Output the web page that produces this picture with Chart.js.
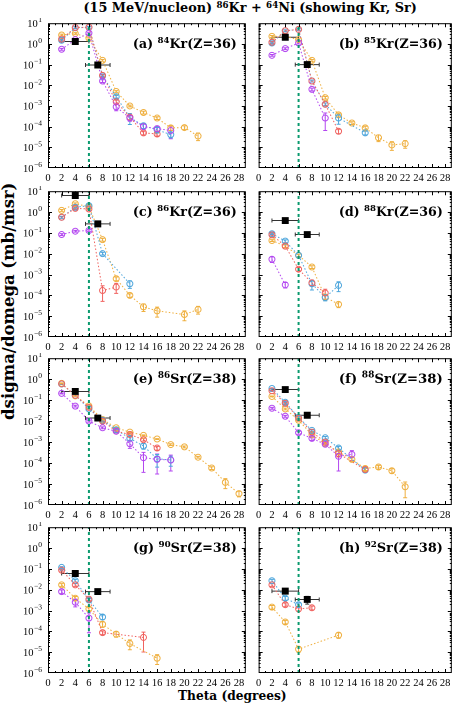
<!DOCTYPE html>
<html><head><meta charset="utf-8">
<script src="https://cdn.jsdelivr.net/npm/chart.js@4.4.1/dist/chart.umd.min.js"></script>
<style>
html,body{margin:0;padding:0;background:#fff}
body{width:457px;height:705px;position:relative;overflow:hidden}
canvas.p{position:absolute}
.t{position:absolute;white-space:nowrap;font-family:'DejaVu Serif';font-weight:bold;line-height:1;color:#000}
.t sup{font-size:0.68em;vertical-align:0.42em;line-height:0}
</style></head><body>
<div id="title" class="t">(15 MeV/nucleon) <sup>86</sup>Kr + <sup>64</sup>Ni (showing Kr, Sr)</div>
<div id="ytitle" class="t">dsigma/domega (mb/msr)</div>
<div id="xtitle" class="t">Theta (degrees)</div>
<script>
// ---------- axes / ticks ----------
const X_MIN = 0, X_MAX = 29, Y_MIN = 1e-6, Y_MAX = 10;
const X_TICKS = [0,2,4,6,8,10,12,14,16,18,20,22,24,26,28];
const Y_TICK_EXP = [1,0,-1,-2,-3,-4,-5,-6];
const THETA_GRAZ = 6;
const EXP_X = [4, 7.3];
const EXP_XERR = [2, 1.8];

// ---------- panel labels ----------
const PANEL_TAG = ['(a)','(b)','(c)','(d)','(e)','(f)','(g)','(h)'];
const PANEL_MASS = ['84','85','86','88','86','88','90','92'];
const PANEL_EL = ['Kr','Kr','Kr','Kr','Sr','Sr','Sr','Sr'];
const PANEL_Z = ['36','36','36','36','38','38','38','38'];

// ---------- (a) 84Kr ----------
const A_or_x = [2,4,6,8,10,12,14,16,18,20,22];
const A_or_y = [2.7,3.2,1.9,0.16,5.0e-3,1.0e-3,4.8e-4,2.6e-4,8.7e-5,9.0e-5,3.5e-5];
const A_or_e = [0.1,0.1,0.1,0.1,0.1,0.1,0.15,0.15,0.25,0.2,0.4];
const A_bl_x = [2,4,6,8,10,12,14,16,18];
const A_bl_y = [1.5,6.0,6.3,0.028,2.8e-3,2.8e-4,1.1e-4,7.0e-5,4.1e-5];
const A_bl_e = [0.1,0.1,0.1,0.1,0.15,0.55,0.3,0.3,0.3];
const A_rd_x = [2,4,6,8,10,12,14,16];
const A_rd_y = [1.7,6.2,6.4,0.03,1.6e-3,2.9e-4,5.0e-5,4.4e-5];
const A_rd_e = [0.1,0.1,0.1,0.1,0.2,0.3,0.2,0.2];
const A_pu_x = [2,4,6,8,10,12,14,16,18];
const A_pu_y = [0.55,1.6,3.3,0.016,9.0e-4,2.6e-4,1.0e-4,8.0e-5,6.5e-5];
const A_pu_e = [0.1,0.1,0.1,0.15,0.35,0.3,0.3,0.3,0.6];
const A_exp_y = [1.3,0.095];
const A_exp_e = [0.1,0.15];

// ---------- (b) 85Kr ----------
const B_or_x = [2,4,6,8,10,12,14,16,18,20,22];
const B_or_y = [2.3,2.3,1.6,0.16,2.5e-3,3.7e-4,1.5e-4,8.7e-5,2.9e-5,1.3e-5,1.5e-5];
const B_or_e = [0.1,0.1,0.1,0.1,0.15,0.2,0.15,0.2,0.35,0.45,0.4];
const B_bl_x = [2,4,6,8,10,12,16];
const B_bl_y = [1.1,4.3,5.0,0.016,1.2e-3,2.6e-4,5.0e-5];
const B_bl_e = [0.1,0.1,0.1,0.1,0.15,0.5,0.2];
const B_rd_x = [2,4,6,8,10,12];
const B_rd_y = [1.2,4.3,5.0,0.016,1.2e-3,6.0e-5];
const B_rd_e = [0.1,0.1,0.1,0.1,0.15,0.25];
const B_pu_x = [2,4,6,8,10];
const B_pu_y = [0.28,0.59,1.1,6.3e-3,2.6e-4];
const B_pu_e = [0.1,0.1,0.1,0.15,0.75];
const B_exp_y = [2.1,0.1];
const B_exp_e = [0.1,0.15];

// ---------- (c) 86Kr ----------
const C_or_x = [2,4,6,8,10,12,14,16,20,22];
const C_or_y = [1.2,2.5,1.8,0.047,6.3e-4,1.0e-4,2.8e-5,1.8e-5,1.2e-5,2.1e-5];
const C_or_e = [0.1,0.1,0.1,0.15,0.2,0.2,0.4,0.5,0.5,0.4];
const C_bl_x = [2,4,6,8,12];
const C_bl_y = [0.56,1.7,2.0,0.01,3.6e-4];
const C_bl_e = [0.1,0.1,0.1,0.15,0.4];
const C_rd_x = [2,4,6,8,10];
const C_rd_y = [0.56,1.5,1.4,1.7e-4,2.5e-4];
const C_rd_e = [0.1,0.1,0.1,0.7,0.5];
const C_pu_x = [2,4,6];
const C_pu_y = [0.083,0.12,0.13];
const C_pu_e = [0.1,0.1,0.1];
const C_exp_y = [6.2,0.27];
const C_exp_e = [0.1,0.15];

// ---------- (d) 88Kr ----------
const D_or_x = [2,4,6,8,10,12];
const D_or_y = [0.043,0.023,8.3e-3,2.3e-3,8.3e-5,3.7e-5];
const D_or_e = [0.1,0.15,0.15,0.15,0.3,0.3];
const D_bl_x = [2,4,6,8,10,12];
const D_bl_y = [0.091,0.04,8.3e-3,3.6e-4,7.8e-5,3.0e-4];
const D_bl_e = [0.1,0.15,0.15,0.5,0.3,0.5];
const D_rd_x = [2,4,6,8,10];
const D_rd_y = [0.08,0.023,1.8e-3,4.0e-4,1.3e-4];
const D_rd_e = [0.1,0.15,0.2,0.3,0.5];
const D_pu_x = [2,4];
const D_pu_y = [5.4e-3,3.2e-4];
const D_pu_e = [0.3,0.3];
const D_exp_y = [0.39,0.083];
const D_exp_e = [0.1,0.15];

// ---------- (e) 86Sr ----------
const E_or_x = [2,4,6,8,10,12,14,16,18,20,22,24,26,28];
const E_or_y = [0.63,0.16,0.053,0.012,4.8e-3,3.0e-3,2.1e-3,1.4e-3,7.6e-4,5.9e-4,1.9e-4,5.8e-5,1.2e-5,3.5e-6];
const E_or_e = [0.05,0.05,0.05,0.05,0.05,0.05,0.05,0.05,0.1,0.1,0.1,0.15,0.5,0.3];
const E_bl_x = [2,4,6,8,10,12,14,16,18];
const E_bl_y = [0.59,0.17,0.038,0.011,3.9e-3,1.5e-3,6.5e-4,1.6e-4,1.4e-4];
const E_bl_e = [0.05,0.05,0.1,0.1,0.1,0.2,0.3,0.6,0.5];
const E_rd_x = [2,4,6,8,10,12,14,16];
const E_rd_y = [0.6,0.17,0.045,0.01,3.3e-3,2.3e-3,1.3e-3,5.2e-4];
const E_rd_e = [0.05,0.05,0.1,0.1,0.1,0.15,0.15,0.2];
const E_pu_x = [2,4,6,8,10,12,14,16,18];
const E_pu_y = [0.21,0.052,0.01,4.8e-3,3.3e-3,8.3e-4,1.8e-4,1.5e-4,1.4e-4];
const E_pu_e = [0.05,0.1,0.1,0.1,0.15,0.4,0.8,0.8,0.7];
const E_exp_y = [0.26,0.014];
const E_exp_e = [0.1,0.15];

// ---------- (f) 88Sr ----------
const F_or_x = [2,4,6,8,10,12,14,16,18,20,22];
const F_or_y = [0.15,0.038,0.011,2.2e-3,8.4e-4,3.4e-4,1.5e-4,5.5e-5,6.5e-5,4.3e-5,7.4e-6];
const F_or_e = [0.05,0.1,0.1,0.1,0.15,0.2,0.2,0.2,0.2,0.25,0.7];
const F_bl_x = [2,4,6,8,10,12,16];
const F_bl_y = [0.36,0.079,0.015,3.6e-3,1.6e-3,5.2e-4,4.6e-5];
const F_bl_e = [0.05,0.1,0.1,0.1,0.15,0.2,0.2];
const F_rd_x = [2,4,6,8,10,12,16];
const F_rd_y = [0.28,0.07,0.014,3.0e-3,1.0e-3,2.8e-4,4.9e-5];
const F_rd_e = [0.05,0.1,0.1,0.1,0.15,0.3,0.2];
const F_pu_x = [2,4,6,8,10,12,14];
const F_pu_y = [0.041,0.017,2.8e-3,1.5e-3,7.9e-4,2.1e-4,2.6e-4];
const F_pu_e = [0.1,0.1,0.15,0.2,0.2,0.8,0.5];
const F_exp_y = [0.32,0.019];
const F_exp_e = [0.1,0.15];

// ---------- (g) 90Sr ----------
const G_or_x = [2,4,6,8,10,12,16];
const G_or_y = [0.017,3.9e-3,1.2e-3,2.2e-4,7.4e-5,2.6e-5,5.1e-6];
const G_or_e = [0.15,0.2,0.2,0.3,0.3,0.5,0.5];
const G_bl_x = [2,4,6,8];
const G_bl_y = [0.117,0.027,3.2e-3,4.9e-4];
const G_bl_e = [0.1,0.15,0.15,0.25];
const G_rd_x = [2,4,6,8,14];
const G_rd_y = [0.087,0.017,3.5e-3,8.7e-5,5.1e-5];
const G_rd_e = [0.1,0.15,0.15,0.2,0.8];
const G_pu_x = [2,4,6];
const G_pu_y = [8.1e-3,2.5e-3,4.3e-4];
const G_pu_e = [0.2,0.4,0.8];
const G_exp_y = [0.06,8.1e-3];
const G_exp_e = [0.1,0.15];

// ---------- (h) 92Sr ----------
const H_or_x = [2,4,6,12];
const H_or_y = [1.45e-3,2.8e-4,1.4e-5,6.6e-5];
const H_or_e = [0.2,0.2,0.3,0.3];
const H_bl_x = [2,4,6];
const H_bl_y = [0.027,3.9e-3,1.9e-3];
const H_bl_e = [0.15,0.2,0.2];
const H_rd_x = [2,4,6,8];
const H_rd_y = [0.017,1.9e-3,1.2e-3,1.35e-3];
const H_rd_e = [0.15,0.2,0.25,0.2];
const H_pu_x = [];
const H_pu_y = [];
const H_pu_e = [];
const H_exp_y = [8.5e-3,3.4e-3];
const H_exp_e = [0.15,0.4];

// ---------- styling ----------
const C_ORANGE = '#EFB040', C_BLUE = '#4EA6DC', C_RED = '#F0625F', C_PURPLE = '#B347F0';
const C_GREEN = '#0A9A6E', C_EXP = '#000000';

const SERIES = [
  [[A_or_x,A_or_y,A_or_e],[A_bl_x,A_bl_y,A_bl_e],[A_rd_x,A_rd_y,A_rd_e],[A_pu_x,A_pu_y,A_pu_e],[A_exp_y,A_exp_e]],
  [[B_or_x,B_or_y,B_or_e],[B_bl_x,B_bl_y,B_bl_e],[B_rd_x,B_rd_y,B_rd_e],[B_pu_x,B_pu_y,B_pu_e],[B_exp_y,B_exp_e]],
  [[C_or_x,C_or_y,C_or_e],[C_bl_x,C_bl_y,C_bl_e],[C_rd_x,C_rd_y,C_rd_e],[C_pu_x,C_pu_y,C_pu_e],[C_exp_y,C_exp_e]],
  [[D_or_x,D_or_y,D_or_e],[D_bl_x,D_bl_y,D_bl_e],[D_rd_x,D_rd_y,D_rd_e],[D_pu_x,D_pu_y,D_pu_e],[D_exp_y,D_exp_e]],
  [[E_or_x,E_or_y,E_or_e],[E_bl_x,E_bl_y,E_bl_e],[E_rd_x,E_rd_y,E_rd_e],[E_pu_x,E_pu_y,E_pu_e],[E_exp_y,E_exp_e]],
  [[F_or_x,F_or_y,F_or_e],[F_bl_x,F_bl_y,F_bl_e],[F_rd_x,F_rd_y,F_rd_e],[F_pu_x,F_pu_y,F_pu_e],[F_exp_y,F_exp_e]],
  [[G_or_x,G_or_y,G_or_e],[G_bl_x,G_bl_y,G_bl_e],[G_rd_x,G_rd_y,G_rd_e],[G_pu_x,G_pu_y,G_pu_e],[G_exp_y,G_exp_e]],
  [[H_or_x,H_or_y,H_or_e],[H_bl_x,H_bl_y,H_bl_e],[H_rd_x,H_rd_y,H_rd_e],[H_pu_x,H_pu_y,H_pu_e],[H_exp_y,H_exp_e]]
];
const MODEL_COLORS = [C_ORANGE, C_BLUE, C_RED, C_PURPLE];

// ---------- layout geometry ----------
const ROW_TOP = [22, 190, 357, 526];
const ROW_BOT = [168, 337, 505, 673];

const TICK_FONT = '"Liberation Serif"';

function drawPanelLabel(ctx, i, right, baseline) {
  const parts = [[PANEL_TAG[i] + ' ', false], [PANEL_MASS[i], true], [PANEL_EL[i] + '(Z=' + PANEL_Z[i] + ')', false]];
  const fontFor = (f, sup) => `bold ${sup ? f * 0.68 : f}px "DejaVu Serif"`;
  const measure = f => parts.reduce((s, p) => { ctx.font = fontFor(f, p[1]); return s + ctx.measureText(p[0]).width; }, 0);
  let fs = 14;
  fs = fs * 104 / measure(fs);
  let x = right - measure(fs);
  ctx.fillStyle = '#000'; ctx.textAlign = 'left'; ctx.textBaseline = 'alphabetic';
  parts.forEach(p => {
    ctx.font = fontFor(fs, p[1]);
    ctx.fillText(p[0], x, p[1] ? baseline - fs * 0.42 : baseline);
    x += ctx.measureText(p[0]).width;
  });
}

const framePlugin = {
  id: 'frame',
  beforeDatasetsDraw(chart) {
    const {ctx, chartArea: a} = chart;
    const xs = chart.scales.x, ys = chart.scales.y;
    ctx.save();
    ctx.beginPath(); ctx.rect(a.left, a.top, a.right - a.left, a.bottom - a.top); ctx.clip();
    chart.data.datasets.forEach(ds => {
      if (!ds.errY) return;
      ctx.strokeStyle = ds.errColor || ds.borderColor;
      ctx.lineWidth = 1;
      ds.data.forEach((p, i) => {
        const px = xs.getPixelForValue(p.x), py = ys.getPixelForValue(p.y);
        const e = ds.errY[i];
        const lo = Math.max(p.y * (1 - e), Y_MIN * 0.05), hi = p.y * (1 + e);
        const pl = ys.getPixelForValue(lo), ph = ys.getPixelForValue(hi);
        ctx.beginPath();
        ctx.moveTo(px, pl); ctx.lineTo(px, ph);
        ctx.moveTo(px - 2, pl); ctx.lineTo(px + 2, pl);
        ctx.moveTo(px - 2, ph); ctx.lineTo(px + 2, ph);
        if (ds.errX) {
          const xl = xs.getPixelForValue(p.x - ds.errX[i]), xh = xs.getPixelForValue(p.x + ds.errX[i]);
          ctx.moveTo(xl, py); ctx.lineTo(xh, py);
          ctx.moveTo(xl, py - 2); ctx.lineTo(xl, py + 2);
          ctx.moveTo(xh, py - 2); ctx.lineTo(xh, py + 2);
        }
        ctx.stroke();
      });
    });
    ctx.restore();
  },
  afterDraw(chart, args, opts) {
    const {ctx, chartArea: a} = chart;
    const xs = chart.scales.x, ys = chart.scales.y;
    ctx.save();
    ctx.strokeStyle = '#000'; ctx.lineWidth = 1;
    ctx.strokeRect(a.left + 0.5, a.top + 0.5, a.right - a.left - 1, a.bottom - a.top - 1);
    ctx.beginPath();
    for (let v = X_MIN + 1; v < X_MAX; v++) {
      const px = Math.round(xs.getPixelForValue(v)) + 0.5;
      const len = v % 2 === 0 ? 4 : 2;
      ctx.moveTo(px, a.bottom); ctx.lineTo(px, a.bottom - len);
      ctx.moveTo(px, a.top); ctx.lineTo(px, a.top + len);
    }
    for (let k = -6; k <= 0; k++) {
      for (let m = 1; m <= 9; m++) {
        const v = m * Math.pow(10, k);
        if (m === 1 && k === -6) continue;
        const py = Math.round(ys.getPixelForValue(v)) + 0.5;
        const len = m === 1 ? 4 : 2;
        ctx.moveTo(a.left, py); ctx.lineTo(a.left + len, py);
        ctx.moveTo(a.right, py); ctx.lineTo(a.right - len, py);
      }
    }
    ctx.stroke();
    if (opts.yLabels) {
      ctx.fillStyle = '#000'; ctx.textAlign = 'left'; ctx.textBaseline = 'alphabetic';
      Y_TICK_EXP.forEach(k => {
        const py = ys.getPixelForValue(Math.pow(10, k));
        const ex = k < 0 ? '\u2212' + (-k) : String(k);
        ctx.font = `7.5px ${TICK_FONT}`;
        const ew = ctx.measureText(ex).width;
        ctx.font = `10.5px ${TICK_FONT}`;
        const bw = ctx.measureText('10').width;
        const xr = a.left - 6;
        ctx.fillText('10', xr - ew - bw - 0.5, py + 3.8);
        ctx.font = `7.5px ${TICK_FONT}`;
        ctx.fillText(ex, xr - ew, py - 1);
      });
    }
    drawPanelLabel(ctx, opts.index, a.right - 9, a.top + 25);
    ctx.restore();
  }
};

function pts(xa, ya) { return xa.map((v, i) => ({x: v, y: ya[i]})); }

function makeChart(i) {
  const col = i % 2, row = Math.floor(i / 2);
  const top = ROW_TOP[row], bot = ROW_BOT[row];
  const W = col ? 205 : 251, L = col ? 252 : 0, yW = col ? 4 : 48;
  const H = bot - top + 24;
  const cv = document.createElement('canvas');
  cv.className = 'p';
  cv.width = W; cv.height = H;
  cv.style.left = L + 'px'; cv.style.top = (top - 4) + 'px';
  cv.style.width = W + 'px'; cv.style.height = H + 'px';
  document.body.appendChild(cv);

  const s = SERIES[i];
  const datasets = [];
  // experimental points (black squares) on top
  datasets.push({
    data: pts(EXP_X, s[4][0]), errY: s[4][1], errX: EXP_XERR, errColor: '#333',
    showLine: false, pointStyle: 'rect', pointRadius: 4.2, pointBackgroundColor: C_EXP,
    pointBorderColor: C_EXP, borderColor: C_EXP, order: 0
  });
  datasets.push({
    data: [{x: THETA_GRAZ, y: Y_MIN}, {x: THETA_GRAZ, y: Y_MAX}], showLine: true,
    borderColor: C_GREEN, borderWidth: 2, borderDash: [3, 3], pointRadius: 0, order: 1
  });
  for (let k = 3; k >= 0; k--) {
    const [xa, ya, ea] = s[k];
    if (!xa.length) continue;
    datasets.push({
      data: pts(xa, ya), errY: ea, showLine: true,
      borderColor: MODEL_COLORS[k], borderWidth: 1, borderDash: [1.5, 2],
      pointStyle: 'circle', pointRadius: 3, pointBorderWidth: 1,
      pointBorderColor: MODEL_COLORS[k], pointBackgroundColor: 'rgba(0,0,0,0)',
      order: 2 + (3 - k)
    });
  }

  new Chart(cv, {
    type: 'scatter',
    data: {datasets},
    plugins: [framePlugin],
    options: {
      responsive: false, animation: false, devicePixelRatio: 2,
      layout: {padding: {top: 4, right: 1, left: 0, bottom: 0}},
      plugins: {legend: {display: false}, tooltip: {enabled: false}, title: {display: false},
                frame: {yLabels: col === 0, index: i}},
      scales: {
        x: {
          type: 'linear', min: X_MIN, max: X_MAX,
          afterBuildTicks: sc => { sc.ticks = X_TICKS.map(v => ({value: v})); },
          ticks: {font: {family: 'Liberation Serif', size: 10.5}, color: '#000', padding: 4,
                  maxRotation: 0, minRotation: 0, autoSkip: false, callback: v => String(v)},
          grid: {display: false, drawTicks: false}, border: {display: false},
          afterFit: sc => { sc.height = 20; }
        },
        y: {
          type: 'logarithmic', min: Y_MIN, max: Y_MAX,
          ticks: {display: false},
          grid: {display: false, drawTicks: false}, border: {display: false},
          afterFit: sc => { sc.width = yW; }
        }
      }
    }
  });
}

for (let i = 0; i < 8; i++) makeChart(i);

function placeText(id, cx, cy, width, rot) {
  const el = document.getElementById(id);
  el.style.fontSize = '14px';
  const w0 = el.offsetWidth;
  const fs = 14 * width / w0;
  el.style.fontSize = fs + 'px';
  const w = el.offsetWidth, h = el.offsetHeight;
  el.style.left = (cx - w / 2) + 'px';
  el.style.top = (cy - h / 2) + 'px';
  if (rot) el.style.transform = 'rotate(-90deg)';
}
placeText('title', 250, 8.5, 334, false);
placeText('ytitle', 9, 301.5, 237, true);
placeText('xtitle', 232.5, 696, 109, false);
</script>
</body></html>
